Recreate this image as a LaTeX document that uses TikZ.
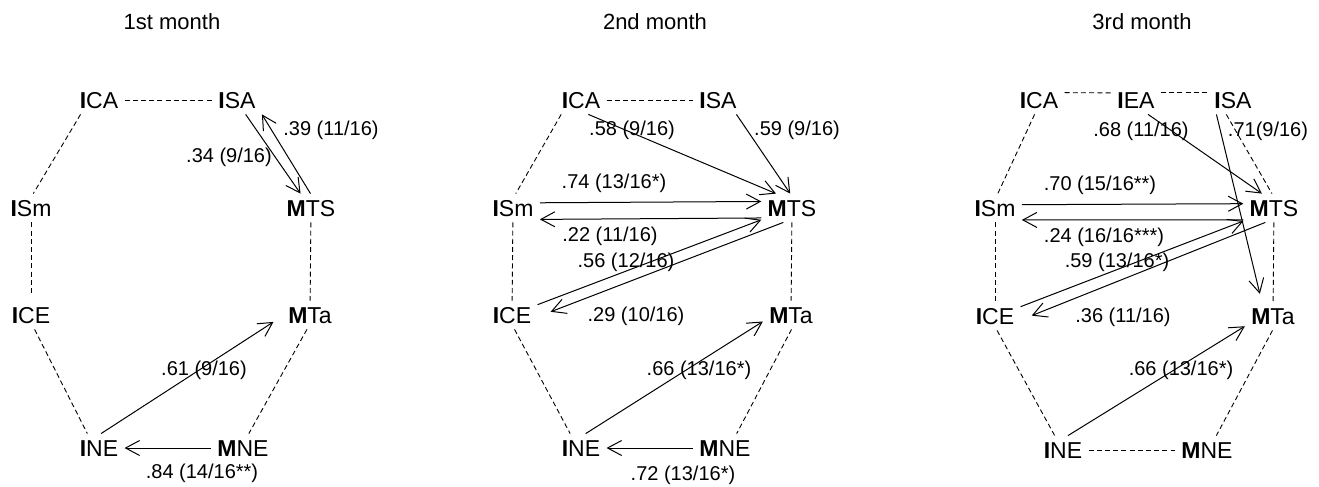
\documentclass[tikz,border=0pt]{standalone}
\usepackage{fontspec}
\setmainfont{Liberation Sans}
\usetikzlibrary{arrows.meta}
\tikzset{var/.style={inner sep=3pt, text height=8pt, text depth=0pt, font=\fontsize{11.5}{13}\selectfont},
  coef/.style={inner sep=0pt, font=\fontsize{10}{12}\selectfont},
  month/.style={inner sep=0pt, font=\fontsize{11}{13}\selectfont},
  assoc/.style={dash pattern=on 2.5pt off 1.6pt, line width=0.45pt},
  effect/.style={-{Straight Barb[length=7pt,width=7.5pt]}, line width=0.5pt}}
\begin{document}
\begin{tikzpicture}[x=0.5pt, y=-0.5pt]
      \useasboundingbox (0,0) rectangle (1319,487);
      % 1st month
      \node [month] (t1) at (172,22) {1st month};
      \node [var] (ica1) at (99,100) {\textbf{I}CA};
      \node [var] (isa1) at (237,100) {\textbf{I}SA};
      \node [var] (ism1) at (31,208) {\textbf{I}Sm};
      \node [var] (mts1) at (311,208) {\textbf{M}TS};
      \node [var] (ice1) at (31,315) {\textbf{I}CE};
      \node [var] (mta1) at (310,315) {\textbf{M}Ta};
      \node [var] (ine1) at (99,448) {\textbf{I}NE};
      \node [var] (mne1) at (243,448) {\textbf{M}NE};
      \draw [assoc] (ica1) -- (isa1);
      \draw [assoc] (ica1.-142) -- (ism1.81);
      \draw [assoc, shorten >=4pt] (ism1) -- (ice1);
      \draw [assoc] (mts1) -- (mta1);
      \draw [assoc] (ice1.-76) -- (ine1.129);
      \draw [assoc] (mta1.-102) -- (mne1.68);
      \draw [effect] (isa1.-59) -- (mts1.126);
      \draw [effect] (mts1.92) -- (isa1.-30);
      \draw [effect, shorten >=5pt] (ine1.82) -- (mta1.-177);
      \draw [effect] (mne1) -- (ine1);
      \node [coef] (c134) at (229,157) {.34 (9/16)};
      \node [coef] (c139) at (331,130) {.39 (11/16)};
      \node [coef] (c161) at (204,370) {.61 (9/16)};
      \node [coef] (c184) at (202,473) {.84 (14/16**)};
      % 2nd month
      \node [month] (t2) at (655,22) {2nd month};
      \node [var] (ica2) at (581,100) {\textbf{I}CA};
      \node [var] (isa2) at (718,100) {\textbf{I}SA};
      \node [var] (ism2) at (513,208) {\textbf{I}Sm};
      \node [var] (mts2) at (792,208) {\textbf{M}TS};
      \node [var] (ice2) at (512,315) {\textbf{I}CE};
      \node [var] (mta2) at (791,315) {\textbf{M}Ta};
      \node [var] (ine2) at (581,448) {\textbf{I}NE};
      \node [var] (mne2) at (725,448) {\textbf{M}NE};
      \draw [assoc] (ica2) -- (isa2);
      \draw [assoc] (ica2.-144) -- (ism2.79);
      \draw [assoc] (ism2) -- (ice2);
      \draw [assoc] (mts2) -- (mta2);
      \draw [assoc] (ice2.-80) -- (ine2.127);
      \draw [assoc] (mta2.-88) -- (mne2.51);
      \draw [effect] (ica2.-63) -- (mts2.138);
      \draw [effect] (isa2.-38) -- (mts2.97);
      \draw [effect] (ism2.11) -- (mts2.168);
      \draw [effect] (mts2.-162) -- (ism2.-23);
      \draw [effect] (ice2.22) -- (mts2.-159);
      \draw [effect, shorten >=7pt] (mts2.-121) -- (ice2.-4);
      \draw [effect] (ine2.72) -- (mta2.-167);
      \draw [effect] (mne2) -- (ine2);
      \node [coef] (c258) at (632,130) {.58 (9/16)};
      \node [coef] (c259) at (797,130) {.59 (9/16)};
      \node [coef] (c274) at (614,183) {.74 (13/16*)};
      \node [coef] (c222) at (610,236) {.22 (11/16)};
      \node [coef] (c256) at (626,262) {.56 (12/16)};
      \node [coef] (c229) at (636,316) {.29 (10/16)};
      \node [coef] (c266) at (699,370) {.66 (13/16*)};
      \node [coef] (c272) at (683,475) {.72 (13/16*)};
      % 3rd month
      \node [month] (t3) at (1142,22) {3rd month};
      \node [var] (ica3) at (1039,100) {\textbf{I}CA};
      \node [var] (iea3) at (1136,100) {\textbf{I}EA};
      \node [var] (isa3) at (1233,100) {\textbf{I}SA};
      \node [var] (ism3) at (995,208) {\textbf{I}Sm};
      \node [var] (mts3) at (1274,208) {\textbf{M}TS};
      \node [var] (ice3) at (995,316) {\textbf{I}CE};
      \node [var] (mta3) at (1273,316) {\textbf{M}Ta};
      \node [var] (ine3) at (1063,450) {\textbf{I}NE};
      \node [var] (mne3) at (1207,450) {\textbf{M}NE};
      \draw [assoc] (ica3.16) -- (iea3.164);
      \draw [assoc] (iea3.16) -- (isa3.164);
      \draw [assoc] (ica3.-107) -- (ism3.79);
      \draw [assoc] (ism3) -- (ice3);
      \draw [assoc] (mts3) -- (mta3);
      \draw [assoc] (ice3.-82) -- (ine3.120);
      \draw [assoc] (mta3.-92) -- (mne3.57);
      \draw [assoc] (ine3) -- (mne3);
      \draw [assoc] (isa3.-115) -- (mts3.98);
      \draw [effect] (iea3.-50) -- (mts3.130);
      \draw [effect, shorten >=4pt] (isa3.-139) -- (mta3.128);
      \draw [effect] (ism3.7) -- (mts3.172);
      \draw [effect] (mts3.-159) -- (ism3.-24);
      \draw [effect] (ice3.20) -- (mts3.-157);
      \draw [effect, shorten >=6pt] (mts3.-121) -- (ice3.-9);
      \draw [effect] (ine3.71) -- (mta3.-160);
      \node [coef] (c368) at (1141,131) {.68 (11/16)};
      \node [coef] (c371) at (1268,131) {.71(9/16)};
      \node [coef] (c370) at (1100,185) {.70 (15/16**)};
      \node [coef] (c324) at (1104,237) {.24 (16/16***)};
      \node [coef] (c359) at (1117,262) {.59 (13/16*)};
      \node [coef] (c336) at (1123,317) {.36 (11/16)};
      \node [coef] (c366) at (1181,370) {.66 (13/16*)};
    \end{tikzpicture}
\end{document}
